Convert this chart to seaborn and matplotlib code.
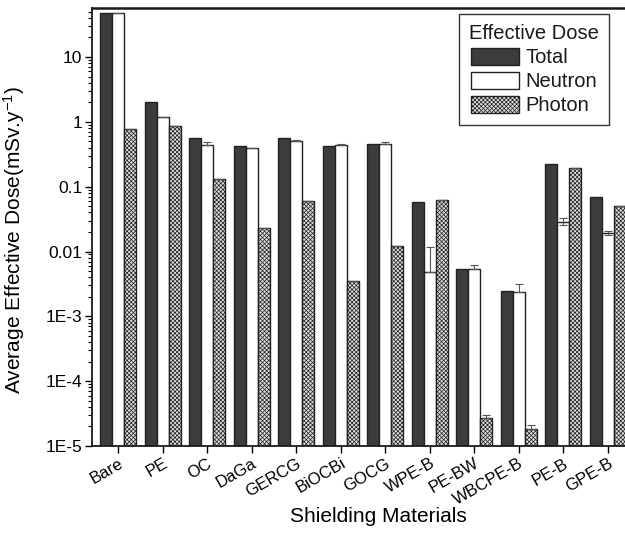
import matplotlib
matplotlib.use("Agg")
import matplotlib.pyplot as plt
import numpy as np
import pandas as pd
import seaborn as sns
from matplotlib import rcParams
from matplotlib.ticker import FixedLocator, LogLocator, NullFormatter

materials = ["Bare", "PE", "OC", "DaGa", "GERCG", "BiOCBi", "GOCG",
             "WPE-B", "PE-BW", "WBCPE-B", "PE-B", "GPE-B"]
dose_types = ["Total", "Neutron", "Photon"]

total = [47, 2.0, 0.56, 0.42, 0.56, 0.43, 0.46, 0.058, 0.0054, 0.0025, 0.225, 0.070]
neutron = [47, 1.18, 0.44, 0.39, 0.50, 0.44, 0.46, 0.0049, 0.0054, 0.0024, 0.029, 0.019]
photon = [0.78, 0.86, 0.13, 0.023, 0.061, 0.0035, 0.0123, 0.063, 2.7e-5, 1.8e-5, 0.197, 0.051]

# upper / lower error bars
neutron_err_up = [0, 0, 0.05, 0.01, 0.02, 0.01, 0.03, 0.007, 0.0007, 0.0007, 0.004, 0.0015]
neutron_err_lo = [0, 0, 0, 0, 0, 0, 0, 0, 0, 0, 0.003, 0.001]
photon_err_up = [0, 0, 0, 0, 0, 0, 0, 0, 0.3e-5, 0.3e-5, 0, 0]

ytick_vals = [1e-5, 1e-4, 1e-3, 1e-2, 1e-1, 1, 10]
ytick_labels = ["1E-5", "1E-4", "1E-3", "0.01", "0.1", "1", "10"]

rcParams["font.family"] = ["Liberation Sans", "DejaVu Sans"]
rcParams["mathtext.fontset"] = "custom"
rcParams["mathtext.rm"] = "Liberation Sans"
rcParams["mathtext.it"] = "Liberation Sans"
rcParams["hatch.linewidth"] = 0.5
rcParams["hatch.color"] = "#7a7a7a"
rcParams["text.color"] = "#1a1a1a"

df = pd.DataFrame({
    "Material": materials * 3,
    "Dose": total + neutron + photon,
    "Type": [t for t in dose_types for _ in materials],
})

fig = plt.figure(figsize=(6.25, 5.37), dpi=100)
ax = fig.add_axes([92 / 625, 1 - 446 / 537, 534 / 625, 438 / 537])

sns.barplot(
    data=df, x="Material", y="Dose", hue="Type",
    palette=["#3c3c3c", "#ffffff", "#dcdcdc"],
    saturation=1, edgecolor="#222222", linewidth=1.0,
    width=0.8, errorbar=None, ax=ax,
)
ax.set_yscale("log")

photon_bars = ax.containers[2]
for p in photon_bars:
    p.set_hatch("xxxxxxxx")

# error bars on top of the bars
for cont, vals, up, lo in [
    (ax.containers[1], neutron, neutron_err_up, neutron_err_lo),
    (ax.containers[2], photon, photon_err_up, [0] * len(photon)),
]:
    xs = [p.get_x() + p.get_width() / 2 for p in cont]
    ax.errorbar(xs, vals, yerr=[lo, up], fmt="none", ecolor="#555555",
                elinewidth=0.8, capsize=3, capthick=0.8)

ax.set_xlim(-0.59, 11.41)
ax.set_ylim(1e-5, 57)

ax.yaxis.set_major_locator(FixedLocator(ytick_vals))
ax.set_yticklabels(ytick_labels, fontsize=12.5)
ax.yaxis.set_minor_locator(LogLocator(base=10, subs=np.arange(2, 10), numticks=20))
ax.yaxis.set_minor_formatter(NullFormatter())
ax.tick_params(axis="y", which="major", direction="out", length=5, width=1.0, pad=2)
ax.tick_params(axis="y", which="minor", direction="out", length=3, width=0.8)
ax.tick_params(axis="x", direction="out", length=5, width=1.0, pad=2)
plt.setp(ax.get_xticklabels(), rotation=30, ha="right", rotation_mode="anchor", fontsize=12)

for side in ["left", "bottom", "top"]:
    ax.spines[side].set_color("#1a1a1a")
    ax.spines[side].set_linewidth(1.3)
ax.spines["top"].set_linewidth(1.8)
ax.spines["right"].set_color("#aaaaaa")
ax.spines["right"].set_linestyle(":")
ax.spines["right"].set_linewidth(0.8)

ax.set_xlabel("Shielding Materials", fontsize=15)
ax.xaxis.set_label_coords(0.536, -0.14)
ax.set_ylabel("Average Effective Dose(mSv.y$^{-1}$)", fontsize=15)
ax.yaxis.set_label_coords(-0.122, 0.47)

ax.get_legend().remove()
leg = ax.legend(
    ax.containers, dose_types, title="Effective Dose",
    loc="upper right", bbox_to_anchor=(609 / 625, 1 - 14 / 537),
    bbox_transform=fig.transFigure,
    fontsize=14.5, title_fontsize=14.5, frameon=True, fancybox=False,
    framealpha=1, edgecolor="#333333", handlelength=2.4, handleheight=0.95,
    labelspacing=0.22, handletextpad=0.3, borderpad=0.5, borderaxespad=0,
)
leg.get_frame().set_linewidth(1.0)

fig.savefig("out.png", dpi=100)
